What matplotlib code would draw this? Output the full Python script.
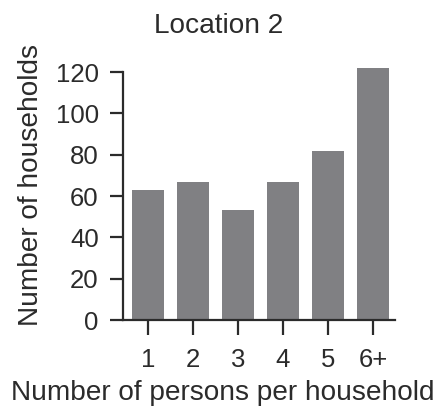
import matplotlib
matplotlib.use("Agg")
import matplotlib.pyplot as plt

categories = ["1", "2", "3", "4", "5", "6+"]
households = [63, 67, 53, 67, 82, 122]
yticks = [0, 20, 40, 60, 80, 100, 120]

plt.rcParams['font.family'] = ['Liberation Sans', 'DejaVu Sans']
text_color = "#2b2b2b"
W, H = 440, 408

fig = plt.figure(figsize=(W/100, H/100), dpi=100)
ax = fig.add_axes([123/W, 1-320/H, (395-123)/W, (320-65.8)/H])

x = list(range(len(categories)))
ax.bar(x, households, width=0.71, color="#808083", zorder=2)

ax.set_xlim(-0.556, 5.49)
ax.set_ylim(0, 123)
ax.spines['left'].set_bounds(0, 120)
ax.spines['top'].set_visible(False)
ax.spines['right'].set_visible(False)
for s in ['left', 'bottom']:
    ax.spines[s].set_linewidth(1.6)
    ax.spines[s].set_color(text_color)

ax.set_yticks(yticks)
ax.set_xticks(x)
ax.set_xticklabels(categories)
ax.tick_params(axis='y', length=9.5, width=1.6, color=text_color, labelsize=18.5, labelcolor=text_color, pad=8)
ax.tick_params(axis='x', length=11, width=1.6, color=text_color, labelsize=18.5, labelcolor=text_color, pad=9)

fig.text(223/W, 1-400/H, "Number of persons per household", fontsize=20.2,
         color=text_color, ha='center', va='baseline')
fig.text(31.5/W, 1-184.5/H, "Number of households", fontsize=20.2,
         color=text_color, ha='center', va='center', rotation=90)
fig.text(219/W, 1-33/H, "Location 2", fontsize=20.2,
         color=text_color, ha='center', va='baseline')

fig.savefig("out.png", dpi=100)
